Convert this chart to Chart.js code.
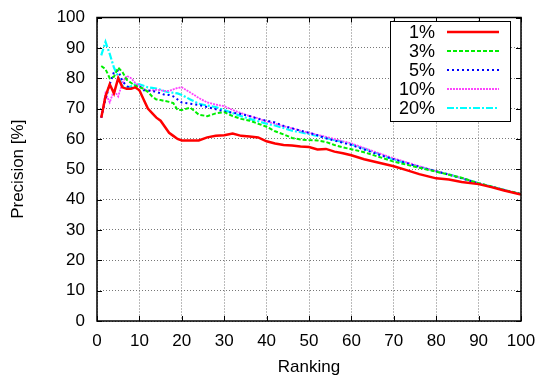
<!DOCTYPE html>
<html>
<head>
<meta charset="utf-8">
<script src="https://cdn.jsdelivr.net/npm/chart.js@4/dist/chart.umd.min.js"></script>
<style>
  html, body { margin: 0; padding: 0; background: #fff; }
  canvas { display: block; }
</style>
</head>
<body>
<canvas id="myChart" width="540" height="381"></canvas>
<script>
const ranks = [1,2,3,4,5,6,7,8,9,10,11,12,13,14,15,16,17,18,19,20,22,24,26,28,30,32,34,36,38,40,42,44,46,48,50,52,54,56,58,60,63,66,70,73,76,80,83,86,90,93,96,100];

const seriesLabels = ["1%", "3%", "5%", "10%", "20%"];

const p1 = [67,74,78,75,80,77,76.5,76.5,77,76,73,70,68.5,67,66,64,62,61,60,59.5,59.5,59.5,60.5,61,61.2,61.8,61,60.8,60.5,59.2,58.5,58,57.8,57.5,57.3,56.5,56.7,55.8,55.3,54.6,53.3,52.3,51,49.7,48.4,47,46.6,45.8,45.1,44.1,43,41.7];
const p3 = [84,83,80,80.5,83.5,82,79.5,78.5,77.5,77,76.5,75.5,74,73,72.8,72.5,72.2,71.8,69.5,69.5,70.3,68,67.5,68.4,68.8,67.5,66.6,66,65,64,62.5,61.5,60.3,59.8,59.6,59.5,59,58,57.2,56.6,55.6,54.3,52.5,51.5,50.5,49.2,48.2,47.2,45.4,44.3,43.2,41.8];
const p5 = [67,73,78,82,82.5,79,77.5,76.5,77.5,77.5,76,76,75.8,75.5,75,74.5,74.5,74,73,72,71.6,71.2,70.5,69.8,69,68.6,68.2,67.5,66.6,66,65.4,64.3,63.5,62.7,62,61.2,60.2,59.5,58.7,58,56.5,55,53.3,52,50.8,49.3,48.2,47,45.3,44.3,43.2,41.8];
const p10 = [67,75,72,76,74,78.5,80.8,80,78.5,77.5,76.5,75.8,76,76.2,76,75.8,75.8,76.3,76.8,77,75.3,73.5,72,71.3,70.8,69.5,68.5,67.5,66.8,65.7,65,64.2,63.5,62.7,62,61.3,60.7,60,59.2,58.5,57,55.5,53.6,52.3,51,49.4,48.3,47.1,45.4,44.3,43.2,41.8];
const p20 = [87.5,92,88,83.5,80.5,77.5,76.8,77.3,78,78,77.5,77,76.8,76.6,76.2,75.7,75.3,75.2,75,74.5,73,71.6,71,70.5,69.5,68.5,67.5,66.6,65.8,65,64.4,63.6,62.7,62.2,61.6,61,60.3,59.6,59,58.2,56.8,55.3,53.2,52,50.8,49.3,48.3,47.1,45.4,44.3,43.2,41.8];

const xTicks = [0,10,20,30,40,50,60,70,80,90,100];
const yTicks = [0,10,20,30,40,50,60,70,80,90,100];

const FONT = "'Liberation Sans', Arial, Helvetica, sans-serif";

function pts(vals) {
  return ranks.map((r, i) => ({ x: r, y: vals[i] }));
}

const styles = [
  { color: "#ff0000", dash: [], width: 2.5 },
  { color: "#00ee00", dash: [4, 2], width: 2 },
  { color: "#0000ff", dash: [2, 3], width: 2 },
  { color: "#ff44ff", dash: [2, 1], width: 1.8 },
  { color: "#00ffff", dash: [7, 2, 2, 2], width: 2.2 },
];

const allVals = [p1, p3, p5, p10, p20];

//FRAME, INWARD TICKS AND BOXED LEGEND (GNUPLOT LOOK)
const gnuFrame = {
  id: "gnuFrame",
  afterDatasetsDraw(chart) {
    const ctx = chart.ctx;
    const a = chart.chartArea;
    const xs = chart.scales.x;
    const ys = chart.scales.y;
    ctx.save();
    ctx.strokeStyle = "#000";
    ctx.lineWidth = 1;
    ctx.setLineDash([]);
    ctx.beginPath();
    xTicks.forEach((v) => {
      const px = Math.round(xs.getPixelForValue(v)) + 0.5;
      ctx.moveTo(px, a.bottom); ctx.lineTo(px, a.bottom - 5);
      ctx.moveTo(px, a.top); ctx.lineTo(px, a.top + 5);
    });
    yTicks.forEach((v) => {
      const py = Math.round(ys.getPixelForValue(v)) + 0.5;
      ctx.moveTo(a.left, py); ctx.lineTo(a.left + 5, py);
      ctx.moveTo(a.right, py); ctx.lineTo(a.right - 5, py);
    });
    ctx.stroke();

    // legend
    const lx = 390, ly = 21, lw = 120, rowH = 19;
    const lh = rowH * chart.data.datasets.length + 5;
    ctx.fillStyle = "#fff";
    ctx.fillRect(lx, ly, lw, lh);
    ctx.strokeStyle = "#000";
    ctx.lineWidth = 1;
    ctx.strokeRect(lx + 0.5, ly + 0.5, lw, lh);
    ctx.font = "18px " + FONT;
    ctx.textAlign = "right";
    ctx.textBaseline = "middle";
    chart.data.datasets.forEach((ds, i) => {
      const cy = ly + 11 + i * rowH;
      ctx.fillStyle = "#000";
      ctx.fillText(ds.label, lx + 45, cy + 1);
      ctx.strokeStyle = ds.borderColor;
      ctx.lineWidth = ds.borderWidth;
      ctx.setLineDash(ds.borderDash);
      ctx.beginPath();
      ctx.moveTo(lx + 57, cy);
      ctx.lineTo(lx + 109, cy);
      ctx.stroke();
    });
    ctx.setLineDash([]);

    ctx.strokeStyle = "#000";
    ctx.lineWidth = 1.5;
    ctx.strokeRect(a.left, a.top, a.right - a.left, a.bottom - a.top);
    ctx.restore();
  },
};

function drawGraph() {
  const ctx = document.getElementById("myChart").getContext("2d");
  new Chart(ctx, {
    type: "line",
    data: {
      datasets: allVals.map((vals, i) => ({
        label: seriesLabels[i],
        data: pts(vals),
        borderColor: styles[i].color,
        borderDash: styles[i].dash,
        borderWidth: styles[i].width,
        pointRadius: 0,
        tension: 0,
        fill: false,
      })),
    },
    options: {
      responsive: false,
      animation: false,
      layout: { padding: { left: 0, top: 17.5, right: 19, bottom: 0 } },
      plugins: {
        legend: { display: false },
        tooltip: { enabled: false },
      },
      scales: {
        x: {
          type: "linear",
          min: 0,
          max: 100,
          afterBuildTicks: (s) => { s.ticks = xTicks.map((v) => ({ value: v })); },
          afterFit: (s) => { s.height = 60; s.paddingLeft = 0; s.paddingRight = 0; },
          grid: { color: "#777", drawTicks: false, lineWidth: 1 },
          border: { display: false, dash: [1, 2] },
          ticks: { color: "#000", padding: 10, maxRotation: 0, font: { family: FONT, size: 17 } },
          title: { display: true, text: "Ranking", color: "#000", padding: { top: 0, bottom: 3 }, font: { family: FONT, size: 17 } },
        },
        y: {
          min: 0,
          max: 100,
          afterBuildTicks: (s) => { s.ticks = yTicks.map((v) => ({ value: v })); },
          afterFit: (s) => { s.width = 97; s.paddingTop = 0; s.paddingBottom = 0; },
          grid: { color: "#777", drawTicks: false, lineWidth: 1 },
          border: { display: false, dash: [1, 2] },
          ticks: { color: "#000", padding: 12, font: { family: FONT, size: 17 } },
          title: { display: true, text: "Precision [%]", color: "#000", padding: { top: 8, bottom: 0 }, font: { family: FONT, size: 17 } },
        },
      },
    },
    plugins: [gnuFrame],
  });
}

drawGraph();
</script>
</body>
</html>
